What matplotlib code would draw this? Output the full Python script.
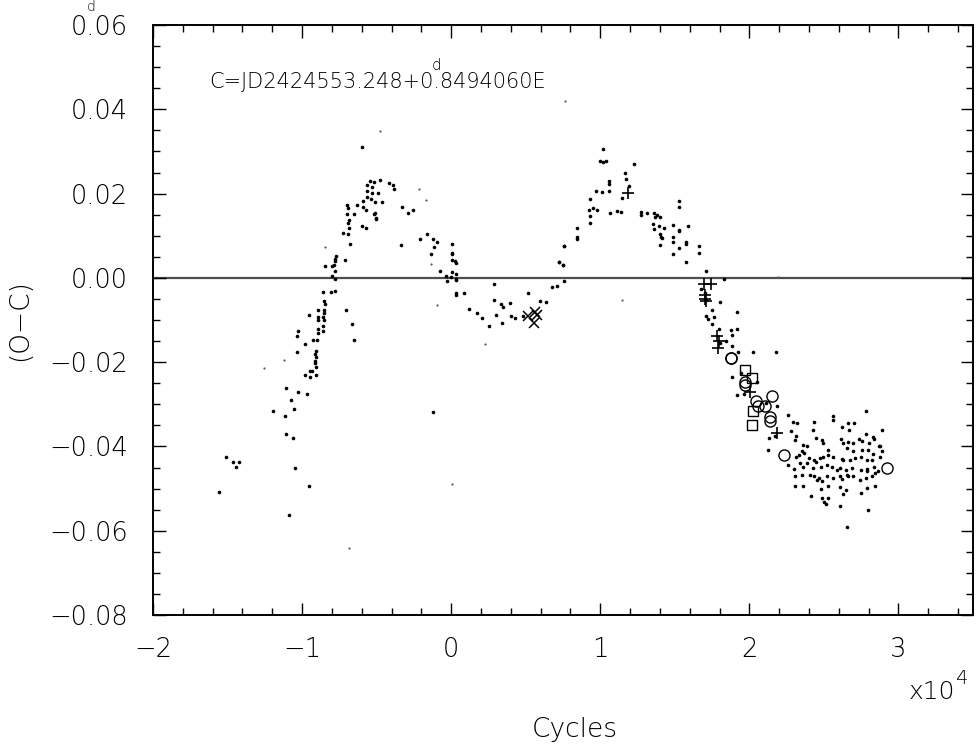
import matplotlib
matplotlib.use("Agg")
import matplotlib.pyplot as plt
from matplotlib.ticker import MultipleLocator

plt.rcParams['font.family'] = ['DejaVu Sans']
plt.rcParams['font.weight'] = 'light'

# ---- data (cycles in units of 1e4, O-C in days) ----
dots_x = [
 -0.860,-0.808,-0.779,-0.851,-0.846,-0.893,-0.853,-0.853,-0.956,-0.891,-0.858,-0.891,-0.853,-0.858,-0.891,-0.862,
 -1.030,-1.032,-0.891,-0.983,-0.929,-0.902,-1.035,-0.909,-0.914,-0.909,-0.911,-0.914,-0.947,-0.936,-0.909,-0.980,
 -0.945,-0.909,-1.108,-1.028,-0.966,-1.072,-1.056,-1.195,-1.113,-1.110,-1.061,-1.510,-1.465,-1.421,-1.441,-1.046,
 -1.557,-0.951,-1.088,
 -0.600,-0.545,-0.516,-0.478,-0.567,-0.529,-0.567,-0.529,-0.489,-0.594,-0.567,-0.538,-0.511,-0.697,-0.632,-0.590,
 -0.571,-0.695,-0.516,-0.507,-0.697,-0.652,-0.683,-0.692,-0.683,-0.600,-0.574,-0.724,-0.694,-0.679,-0.775,-0.780,
 -0.778,-0.784,-0.712,-0.846,-0.801,-0.780,-0.801,-0.780,-0.466,-0.511,-0.504,
 -0.417,-0.393,-0.382,-0.328,-0.292,-0.258,-0.339,-0.207,-0.164,-0.120,-0.093,-0.117,-0.135,-0.075,-0.035,-0.030,
 -0.667,-0.654,-0.706,
 0.005,0.005,0.005,0.003,0.023,0.034,0.005,0.032,-0.003,0.032,0.032,0.032,0.032,0.086,0.287,0.121,0.171,0.209,
 0.256,0.289,0.331,0.345,0.302,0.338,0.396,0.399,0.428,0.480,0.515,0.596,0.636,0.676,0.710,0.725,0.752,0.759,
 0.759,-0.120,
 1.016,0.998,1.021,1.041,1.228,1.168,1.174,1.192,1.056,1.060,0.973,1.014,1.056,1.148,0.929,0.951,0.927,0.980,
 1.065,1.109,1.141,0.933,0.929,0.846,0.846,0.846,0.757,0.726,0.752,1.271,1.273,1.315,1.362,1.378,1.369,1.400,
 1.355,1.394,1.360,1.425,1.400,1.409,1.416,1.400,1.528,1.528,1.488,1.530,1.530,1.590,1.488,1.490,1.526,1.488,
 1.577,1.577,1.660,1.662,1.577,1.709,1.832,
 1.677,1.703,1.709,1.803,1.749,1.765,1.709,1.725,1.749,1.919,1.796,1.874,1.919,1.881,1.843,1.803,1.881,1.926,
 2.026,2.178,1.881,1.915,1.966,2.049,2.188,2.261,2.294,2.170,2.127,2.133,2.277,2.313,2.306,2.317,2.313,2.261,
 2.299,2.306,2.306,2.335,2.111,1.942,
 2.782,2.563,2.563,2.433,2.619,2.663,2.703,2.670,2.887,2.428,2.446,2.484,2.491,2.612,2.630,2.659,2.697,2.737,
 2.753,2.782,2.804,2.831,2.835,2.871,2.876,2.361,2.350,2.388,2.366,2.529,2.652,2.697,2.753,2.797,2.831,2.887,
 2.876,2.402,2.433,2.473,2.496,2.529,2.563,2.619,2.630,2.674,2.708,2.746,2.786,2.820,2.339,2.384,2.446,2.478,
 2.518,2.551,2.607,2.648,2.686,2.746,2.786,2.835,2.864,2.361,2.428,2.585,2.652,2.663,2.786,2.842,2.350,2.406,
 2.433,2.469,2.484,2.522,2.529,2.563,2.607,2.619,2.697,2.741,2.782,2.820,2.842,2.357,2.451,2.478,2.607,2.648,
 2.625,2.746,2.786,2.413,2.484,2.500,2.513,2.529,2.607,2.795,2.652,
]
dots_y = [
 -0.0034,-0.0034,-0.0032,-0.0056,-0.0062,-0.0076,-0.0076,-0.0084,-0.0088,-0.0093,-0.0093,-0.0101,-0.0100,-0.0114,-0.0122,-0.0127,
 -0.0127,-0.0137,-0.0131,-0.0157,-0.0148,-0.0148,-0.0175,-0.0173,-0.0180,-0.0187,-0.0197,-0.0201,-0.0222,-0.0220,-0.0212,-0.0230,
 -0.0236,-0.0230,-0.0262,-0.0272,-0.0275,-0.0291,-0.0311,-0.0315,-0.0328,-0.0370,-0.0379,-0.0425,-0.0438,-0.0436,-0.0448,-0.0451,
 -0.0508,-0.0495,-0.0563,
 0.0311,0.0230,0.0228,0.0232,0.0221,0.0215,0.0206,0.0201,0.0201,0.0183,0.0191,0.0187,0.0181,0.0173,0.0173,0.0167,
 0.0161,0.0165,0.0152,0.0142,0.0152,0.0151,0.0138,0.0131,0.0119,0.0123,0.0119,0.0107,0.0104,0.0081,0.0051,0.0044,
 0.0039,0.0031,0.0043,0.0028,0.0028,0.0016,0.0005,-0.0003,0.0181,0.0155,0.0139,
 0.0225,0.0221,0.0210,0.0169,0.0155,0.0161,0.0077,0.0093,0.0104,0.0092,0.0085,0.0074,0.0057,0.0017,0.0005,-0.0007,
 -0.0109,-0.0147,-0.0076,
 0.0081,0.0060,0.0056,0.0043,0.0040,0.0035,0.0014,0.0009,0.0001,-0.0002,-0.0006,-0.0035,-0.0040,-0.0036,-0.0015,-0.0074,-0.0084,-0.0095,
 -0.0114,-0.0052,-0.0062,-0.0070,-0.0088,-0.0106,-0.0060,-0.0090,-0.0096,-0.0090,-0.0036,-0.0056,-0.0058,-0.0021,-0.0019,0.0038,0.0031,0.0076,
 -0.0007,-0.0319,
 0.0305,0.0278,0.0275,0.0278,0.0270,0.0248,0.0234,0.0218,0.0229,0.0223,0.0206,0.0204,0.0207,0.0189,0.0187,0.0165,0.0160,0.0160,
 0.0155,0.0158,0.0156,0.0146,0.0129,0.0118,0.0097,0.0093,0.0076,0.0037,0.0031,0.0157,0.0149,0.0154,0.0154,0.0150,0.0144,0.0144,
 0.0128,0.0122,0.0117,0.0118,0.0104,0.0098,0.0094,0.0079,0.0183,0.0167,0.0126,0.0114,0.0112,0.0123,0.0097,0.0086,0.0070,0.0056,
 0.0086,0.0081,0.0076,0.0059,0.0038,0.0016,-0.0002,
 -0.0027,-0.0036,-0.0052,-0.0057,-0.0076,-0.0092,-0.0090,-0.0098,-0.0109,-0.0081,-0.0122,-0.0123,-0.0122,-0.0135,-0.0149,-0.0155,-0.0161,-0.0175,
 -0.0176,-0.0176,-0.0236,-0.0278,-0.0276,-0.0246,-0.0305,-0.0325,-0.0341,-0.0376,-0.0409,-0.0380,-0.0364,-0.0376,-0.0384,-0.0345,-0.0424,-0.0443,
 -0.0453,-0.0471,-0.0493,-0.0420,-0.0297,-0.0226,
 -0.0316,-0.0327,-0.0338,-0.0343,-0.0355,-0.0345,-0.0345,-0.0361,-0.0361,-0.0362,-0.0380,-0.0384,-0.0392,-0.0383,-0.0392,-0.0390,-0.0392,-0.0383,
 -0.0388,-0.0371,-0.0391,-0.0378,-0.0383,-0.0398,-0.0400,-0.0396,-0.0412,-0.0400,-0.0416,-0.0408,-0.0404,-0.0410,-0.0408,-0.0408,-0.0418,-0.0412,
 -0.0425,-0.0428,-0.0432,-0.0428,-0.0424,-0.0420,-0.0425,-0.0430,-0.0433,-0.0432,-0.0428,-0.0425,-0.0432,-0.0433,-0.0440,-0.0440,-0.0438,-0.0448,
 -0.0444,-0.0449,-0.0452,-0.0455,-0.0452,-0.0455,-0.0454,-0.0448,-0.0459,-0.0449,-0.0452,-0.0455,-0.0467,-0.0471,-0.0459,-0.0462,-0.0467,-0.0467,
 -0.0471,-0.0475,-0.0483,-0.0471,-0.0493,-0.0475,-0.0471,-0.0478,-0.0471,-0.0479,-0.0475,-0.0471,-0.0495,-0.0493,-0.0479,-0.0501,-0.0497,-0.0503,
 -0.0512,-0.0511,-0.0499,-0.0517,-0.0523,-0.0531,-0.0536,-0.0523,-0.0541,-0.0550,-0.0590,
]

faint_x = [-1.119,-1.256,-0.844,-0.478,-0.214,-0.169,-0.138,-0.093,0.008,-0.683,0.225,1.143,2.190,0.765]
faint_y = [-0.0196,-0.0213,0.0074,0.0349,0.0210,0.0185,0.0033,-0.0065,-0.0490,-0.0641,-0.0156,-0.0052,0.0002,0.0420]

plus_x = [1.185,1.696,1.740,1.703,1.703,1.709,1.785,1.791,1.798,2.004,2.183]
plus_y = [0.0202,-0.0014,-0.0015,-0.0040,-0.0050,-0.0055,-0.0138,-0.0167,-0.0150,-0.0270,-0.0368]

cross_x = [0.513,0.562,0.573,0.555]
cross_y = [-0.0091,-0.0082,-0.0088,-0.0106]

circ_x = [1.874,1.880,1.970,1.970,2.150,2.044,2.056,2.105,2.138,2.138,2.232,2.925]
circ_y = [-0.0191,-0.0191,-0.0246,-0.0254,-0.0281,-0.0293,-0.0305,-0.0305,-0.0330,-0.0340,-0.0420,-0.0451]

sq_x = [1.970,2.015,2.022,2.015]
sq_y = [-0.0218,-0.0238,-0.0315,-0.0348]

xticks = [-2, -1, 0, 1, 2, 3]
yticks = [-0.08, -0.06, -0.04, -0.02, 0.00, 0.02, 0.04, 0.06]

W, H = 976, 747
fig = plt.figure(figsize=(W/100, H/100), dpi=100)
ax = fig.add_axes([153/W, 1-615/H, (973-153)/W, (615-25)/H])

ax.axhline(0, color='0.3', lw=1.6, zorder=1)
ax.plot(dots_x, dots_y, 'o', ms=2.6, mfc='black', mec='none', zorder=3)
ax.plot(faint_x, faint_y, 'o', ms=1.6, mfc='0.35', mec='none', zorder=3)
ax.plot(plus_x, plus_y, '+', ms=8, mew=1.2, color='black', zorder=4)
ax.plot(cross_x, cross_y, 'x', ms=7, mew=1.1, color='black', zorder=4)
ax.plot(circ_x, circ_y, 'o', ms=8, mfc='none', mec='black', mew=1.0, zorder=4)
ax.plot(sq_x, sq_y, 's', ms=6.5, mfc='none', mec='black', mew=1.0, zorder=4)

ax.set_xlim(-2, 3.5)
ax.set_ylim(-0.08, 0.06)
ax.set_xticks(xticks)
ax.set_xticklabels([str(v).replace('-', '\u2212') for v in xticks])
ax.set_yticks(yticks)
ylabels = ['%.2f' % v for v in yticks]
ylabels = [s.replace('-', '\u2212') for s in ylabels]
ax.set_yticklabels(ylabels)
ax.xaxis.set_minor_locator(MultipleLocator(0.2))
ax.yaxis.set_minor_locator(MultipleLocator(0.005))
ax.tick_params(which='both', direction='in', top=True, right=True, width=1.0)
ax.tick_params(which='major', length=9, labelsize=18.5)
ax.tick_params(axis='y', which='major', pad=18)
ax.tick_params(axis='x', which='major', pad=16)
ax.tick_params(which='minor', length=5)
for s in ax.spines.values():
    s.set_linewidth(1.4)

# annotation with superscript "d" over the decimal point
ann = fig.text(209/W, 1-82/H, 'C=JD2424553.248+0.8494060E', fontsize=15, ha='left', va='center')
fig.canvas.draw()
r = fig.canvas.get_renderer()
pre = fig.text(209/W, 1-82/H, 'C=JD2424553.248+0', fontsize=15, ha='left', va='center', alpha=0)
bb = pre.get_window_extent(r)
pre.remove()
fig.text((bb.x1 + 3)/W, 1-66/H, 'd', fontsize=11, ha='center', va='center')

# superscript "d" on the top y tick label
lab = ax.get_yticklabels()[-1]
lb = lab.get_window_extent(r)
fig.text((lb.x0 + 0.36*(lb.x1-lb.x0))/W, 1-7/H, 'd', fontsize=10, ha='center', va='center')

fig.text(20/W, 1-320/H, '(O\u2212C)', fontsize=19, rotation=90, ha='center', va='center')
fig.text(575/W, 1-729/H, 'Cycles', fontsize=19, ha='center', va='center')
fig.text(955/W, 1-692/H, 'x10', fontsize=18, ha='right', va='center')
fig.text(956/W, 1-678/H, '4', fontsize=14, ha='left', va='center')

fig.savefig('out.png', dpi=100)
